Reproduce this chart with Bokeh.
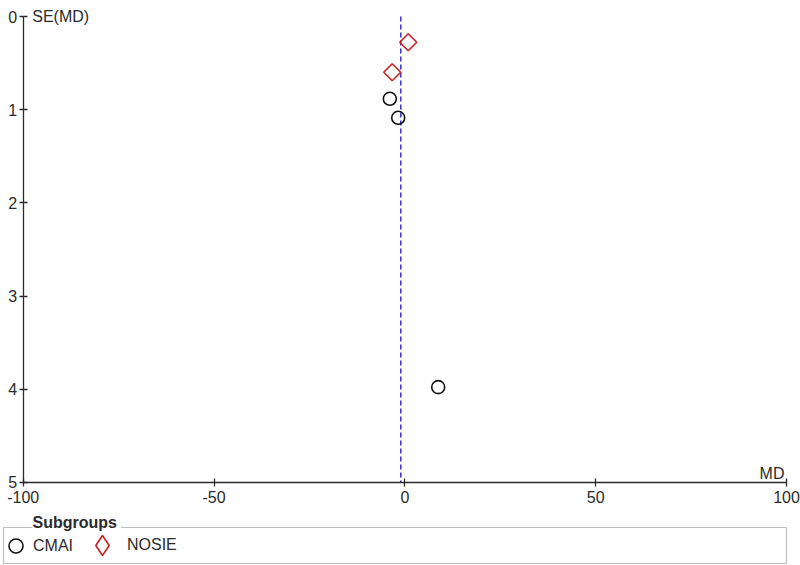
from bokeh.plotting import figure
from bokeh.models import (Range1d, LinearAxis, FixedTicker, Label, Legend, LegendItem,
                          BoxAnnotation, ColumnDataSource)
from bokeh.embed import file_html
from bokeh.resources import INLINE
import numpy as np

# ---- data ----
cmai_md = [-3.94, -1.74, 8.74]
cmai_se = [0.883, 1.087, 3.977]
nosie_md = [0.88, -3.31]
nosie_se = [0.276, 0.598]
pooled_md = -1.06
x_ticks = [-100, -50, 0, 50, 100]
x_tick_labels = ["-100", "-50", "0", "50", "100"]
y_ticks = [0, 1, 2, 3, 4, 5]
x_lim = (-100, 100)
se_lim = (0, 5)

FONT = "Liberation Sans"
TXT = "#2b2b2b"

W, H = 800, 565
p = figure(width=W, height=H,
           x_range=Range1d(-105.95, 103.67), y_range=Range1d(5.8906, -0.1717),
           x_axis_type=None, y_axis_type=None, min_border=0,
           toolbar_location=None, output_backend="svg",
           outline_line_color=None, background_fill_color="white",
           border_fill_color="white")

xa = LinearAxis(fixed_location=se_lim[1], bounds=x_lim,
                ticker=FixedTicker(ticks=x_ticks),
                major_label_overrides={t: s for t, s in zip(x_ticks, x_tick_labels)})
ya = LinearAxis(fixed_location=x_lim[0], bounds=se_lim,
                ticker=FixedTicker(ticks=y_ticks))
for ax in (xa, ya):
    ax.axis_line_color = TXT
    ax.axis_line_width = 1.3
    ax.major_tick_line_color = TXT
    ax.major_tick_line_width = 1.3
    ax.major_tick_in = 4
    ax.major_tick_out = 4
    ax.minor_tick_line_color = None
    ax.major_label_text_font = FONT
    ax.major_label_text_font_size = "16px"
    ax.major_label_text_color = TXT
xa.major_label_standoff = 5
ya.major_label_standoff = 2
p.add_layout(xa, "below")
p.add_layout(ya, "left")

# pooled estimate line
p.line(x=[pooled_md, pooled_md], y=list(se_lim), line_color="#2f2fc8",
       line_width=1.5, line_dash="5 3")

src_c = ColumnDataSource(dict(x=cmai_md, y=cmai_se))
src_n = ColumnDataSource(dict(x=nosie_md, y=nosie_se))
r_c = p.scatter("x", "y", source=src_c, marker="circle", size=13,
                fill_color=None, line_color="#111111", line_width=1.6)
r_n = p.scatter("x", "y", source=src_n, marker="square", size=12, angle=np.pi / 4,
                fill_color=None, line_color="#cc2020", line_width=1.6)
# legend-only glyph for the diamond symbol (legend markers are drawn unrotated);
# its single point is NaN so nothing is drawn in the plot area
r_n_leg = p.scatter("x", "y", source=ColumnDataSource(dict(x=[np.nan], y=[np.nan])),
                    marker="diamond", size=12, fill_color=None, line_color="#cc2020",
                    line_width=1.6)

p.add_layout(Label(x=x_lim[0], y=se_lim[0], x_offset=9, text="SE(MD)",
                   text_font=FONT, text_font_size="16px", text_color=TXT,
                   text_baseline="alphabetic"))
p.add_layout(Label(x=x_lim[1], y=se_lim[1], x_offset=-2, text="MD",
                   text_font=FONT, text_font_size="16px", text_color=TXT,
                   text_align="right", text_baseline="bottom"))

# legend box
p.add_layout(BoxAnnotation(left=3, right=786, bottom=2, top=38,
                           left_units="screen", right_units="screen",
                           bottom_units="screen", top_units="screen",
                           fill_alpha=0, line_color=TXT, line_width=1.2))
p.add_layout(Label(x=32, y=39, x_units="screen", y_units="screen", text="Subgroups",
                   text_font=FONT, text_font_size="16px", text_font_style="bold",
                   text_color=TXT, text_baseline="middle",
                   background_fill_color="white", padding=(0, 4, 0, 9)))

common = dict(orientation="horizontal", border_line_alpha=0, background_fill_alpha=0,
              padding=0, margin=0, label_text_font=FONT, label_text_font_size="16px",
              label_text_color=TXT)
leg_c = Legend(items=[LegendItem(label="CMAI", renderers=[r_c])],
               location=(-2, 2), glyph_width=35, glyph_height=35,
               label_standoff=0, **common)
leg_n = Legend(items=[LegendItem(label="NOSIE", renderers=[r_n_leg])],
               location=(77, -5), glyph_width=50, glyph_height=50,
               label_standoff=-9, **common)
p.add_layout(leg_c)
p.add_layout(leg_n)

open("out.html", "w").write(file_html(p, INLINE))
